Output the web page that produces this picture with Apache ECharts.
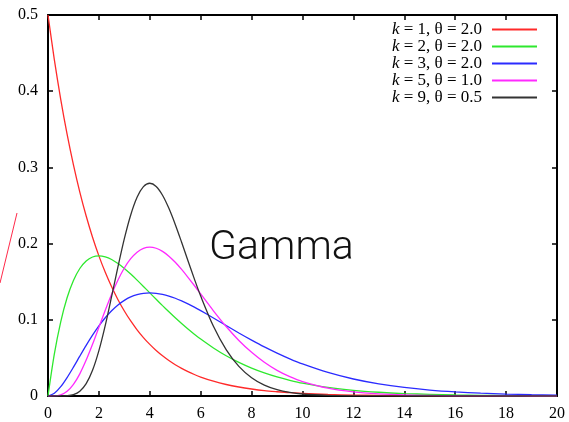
<!DOCTYPE html>
<html>
<head>
<meta charset="utf-8">
<script src="https://cdn.jsdelivr.net/npm/echarts@6/dist/echarts.min.js"></script>
<style>html,body{margin:0;padding:0;background:#fff}#c{width:569px;height:422px}</style>
</head>
<body>
<div id="c"></div>
<script>
var xs = [0,0.25,0.5,0.75,1,1.25,1.5,1.75,2,2.25,2.5,2.75,3,3.25,3.5,3.75,4,4.25,4.5,4.75,5,5.25,5.5,5.75,6,6.5,7,7.5,8,8.5,9,9.5,10,11,12,13,14,15,16,17,18,19,20];
var seriesNames = ['k = 1, θ = 2.0','k = 2, θ = 2.0','k = 3, θ = 2.0','k = 5, θ = 1.0','k = 9, θ = 0.5'];
var k1 = [0.5,0.4412,0.3894,0.3436,0.3033,0.2676,0.2362,0.2084,0.1839,0.1623,0.1433,0.1264,0.1116,0.0985,0.0869,0.0767,0.0677,0.0597,0.0527,0.0465,0.0410,0.0362,0.0320,0.0282,0.0249,0.0194,0.0151,0.0118,0.0092,0.0071,0.0056,0.0043,0.0034,0.0020,0.0012,0.0008,0.0005,0.0003,0.0002,0.0001,0.0001,0,0];
var k2 = [0,0.0552,0.0974,0.1289,0.1516,0.1673,0.1771,0.1824,0.1839,0.1826,0.1791,0.1738,0.1674,0.1600,0.1521,0.1438,0.1353,0.1269,0.1186,0.1105,0.1026,0.0951,0.0879,0.0811,0.0747,0.0630,0.0528,0.0441,0.0366,0.0303,0.0250,0.0206,0.0168,0.0112,0.0074,0.0049,0.0032,0.0021,0.0013,0.0009,0.0006,0.0004,0.0002];
var k3 = [0,0.0035,0.0122,0.0242,0.0379,0.0523,0.0664,0.0798,0.0920,0.1027,0.1119,0.1195,0.1255,0.1300,0.1330,0.1348,0.1353,0.1348,0.1334,0.1312,0.1283,0.1248,0.1209,0.1166,0.1120,0.1024,0.0925,0.0827,0.0733,0.0644,0.0563,0.0488,0.0421,0.0309,0.0223,0.0159,0.0112,0.0078,0.0054,0.0037,0.0025,0.0017,0.0011];
var k5 = [0,0.0001,0.0016,0.0062,0.0153,0.0291,0.0471,0.0679,0.0902,0.1126,0.1336,0.1523,0.1680,0.1802,0.1888,0.1938,0.1954,0.1939,0.1898,0.1835,0.1755,0.1661,0.1558,0.1450,0.1339,0.1118,0.0912,0.0729,0.0573,0.0443,0.0337,0.0254,0.0189,0.0102,0.0053,0.0027,0.0013,0.0007,0.0003,0.0001,0.0001,0,0];
var k9 = [0,0,0,0.0003,0.0017,0.0062,0.0162,0.0337,0.0595,0.0927,0.1306,0.1697,0.2065,0.2376,0.2608,0.2747,0.2792,0.2750,0.2635,0.2463,0.2252,0.2018,0.1776,0.1537,0.1311,0.0915,0.0609,0.0389,0.0240,0.0143,0.0083,0.0047,0.0026,0.0008,0.0002,0.0001,0,0,0,0,0,0,0];
var colors = ['#ff2a2a','#2ee82e','#2b2bff','#ff2aff','#333333'];
var xTicks = {min:0, max:20, interval:2};
var yTicks = {min:0, max:0.5, interval:0.1};

var allY = [k1,k2,k3,k5,k9];
function pairs(ys){ return xs.map(function(x,i){ return [x, ys[i]]; }); }

var serif = 'Liberation Serif';
var axisLineStyle = {color:'#000', width:2};
var tickStyle = {show:true, inside:true, length:5, lineStyle:{color:'#000', width:1.5}};
var series = allY.map(function(ys, i){
  return {
    name: seriesNames[i], type:'line', data: pairs(ys), smooth: 0.3,
    symbol:'none', showSymbol:false, clip:true,
    lineStyle:{color:colors[i], width:1.3}, itemStyle:{color:colors[i]},
    z: 3 + i
  };
});

var chart = echarts.init(document.getElementById('c'), null, {renderer:'canvas'});
chart.setOption({
  animation:false,
  backgroundColor:'#fff',
  grid:{left:48, right:12, top:15, bottom:26, containLabel:false},
  xAxis:[
    {type:'value', min:xTicks.min, max:xTicks.max, interval:xTicks.interval, position:'bottom',
     axisLine:{show:true, onZero:false, lineStyle:axisLineStyle}, axisTick:tickStyle,
     axisLabel:{color:'#000', fontFamily:serif, fontSize:16, margin:10}, splitLine:{show:false}},
    {type:'value', min:xTicks.min, max:xTicks.max, interval:xTicks.interval, position:'top',
     axisLine:{show:true, onZero:false, lineStyle:axisLineStyle}, axisTick:tickStyle,
     axisLabel:{show:false}, splitLine:{show:false}}
  ],
  yAxis:[
    {type:'value', min:yTicks.min, max:yTicks.max, interval:yTicks.interval, position:'left',
     axisLine:{show:true, onZero:false, lineStyle:axisLineStyle}, axisTick:tickStyle,
     axisLabel:{color:'#000', fontFamily:serif, fontSize:16, margin:10}, splitLine:{show:false}},
    {type:'value', min:yTicks.min, max:yTicks.max, interval:yTicks.interval, position:'right',
     axisLine:{show:true, onZero:false, lineStyle:axisLineStyle}, axisTick:tickStyle,
     axisLabel:{show:false}, splitLine:{show:false}}
  ],
  legend:{
    orient:'vertical', right:32, top:21, padding:0, itemGap:0,
    align:'right', itemWidth:45, itemHeight:2, icon:'rect',
    data: seriesNames,
    formatter:function(n){ return '{i|k}' + n.slice(1); },
    textStyle:{color:'#000', fontFamily:serif, fontSize:17, lineHeight:17, padding:[0,5,0,0],
      rich:{i:{fontStyle:'italic', fontFamily:serif, fontSize:17, lineHeight:17, color:'#000'}}}
  },
  graphic:[
    {type:'text', left:209, top:228, style:{text:'Gamma', font:'300 41px Roboto', fill:'#111'}, z:100},
    {type:'line', shape:{x1:0, y1:283, x2:17, y2:213}, style:{stroke:'#ff2a4a', lineWidth:1}, z:100}
  ],
  series: series
});
</script>
</body>
</html>
